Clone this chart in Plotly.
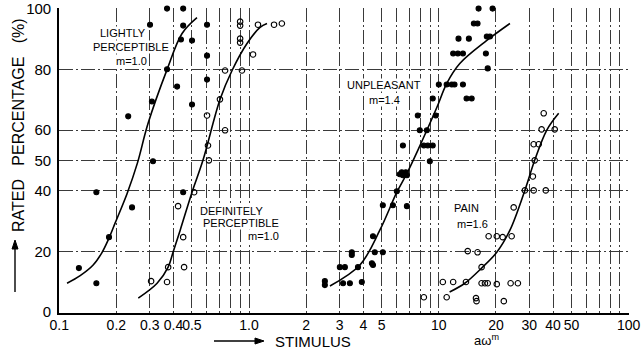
import plotly.graph_objects as go

# ---------------- data ----------------
lightly_x = [0.157, 0.127, 0.157, 0.183, 0.242, 0.231, 0.308, 0.312, 0.301, 0.370, 0.370,
             0.418, 0.450, 0.450, 0.438, 0.501, 0.501, 0.450, 0.601, 0.601, 0.601]
lightly_y = [9.5, 14.5, 39.5, 24.7, 34.5, 64.5, 69.4, 49.7, 94.7, 100, 80,
             74.3, 100, 94.4, 89.8, 89.5, 68.4, 39.5, 94.7, 84.5, 76.6]
lightly_curve_x = [0.110, 0.129, 0.151, 0.168, 0.181, 0.197, 0.228, 0.258, 0.294, 0.370, 0.444, 0.532]
lightly_curve_y = [9.5, 12.0, 15.5, 19.6, 23.7, 29.3, 39.1, 49.0, 62.2, 79.9, 91.8, 97.0]

definitely_x = [0.305, 0.370, 0.375, 0.455, 0.450, 0.423, 0.514, 0.608, 0.615, 0.601, 0.703,
                0.748, 0.748, 0.918, 1.05, 0.898, 0.898, 0.898, 0.898, 1.115, 1.355, 1.49]
definitely_y = [10.2, 9.9, 14.8, 14.8, 24.7, 34.9, 39.5, 54.9, 50.0, 64.8, 70.1,
                59.9, 79.6, 79.6, 84.9, 95.7, 94.4, 90.1, 88.8, 94.7, 94.7, 95.1]
definitely_curve_x = [0.261, 0.328, 0.375, 0.398, 0.434, 0.501, 0.572, 0.704, 0.814, 0.976, 1.143, 1.244]
definitely_curve_y = [4.6, 9.5, 14.8, 19.7, 27.0, 39.5, 50.0, 70.1, 79.6, 88.5, 93.8, 95.1]

unpleasant_x = [2.51, 2.51, 3.01, 3.20, 3.13, 3.40, 3.48, 3.48, 3.75, 3.93, 4.44, 4.50, 4.50,
                4.60, 5.07, 5.07, 5.73, 6.79, 6.01, 6.23, 6.47, 6.79, 6.38, 6.70, 6.47, 7.75,
                7.94, 8.34, 8.75, 9.29, 8.65, 9.29, 9.64, 8.97, 10.0, 11.0, 11.7, 12.1, 13.4,
                14.0, 14.9, 11.9, 12.6, 13.4, 12.7, 14.4, 15.3, 16.0, 17.9, 18.6, 17.7, 18.1,
                16.2, 19.2]
unpleasant_y = [10.2, 8.9, 14.8, 14.8, 9.5, 9.5, 19.7, 18.8, 14.8, 9.9, 16.1, 15.5, 25.0,
                19.7, 19.7, 35.2, 35.2, 34.9, 39.8, 45.4, 45.1, 45.1, 46.1, 46.1, 54.9, 64.8,
                59.9, 54.9, 54.9, 54.9, 59.9, 70.4, 64.8, 49.7, 75.0, 75.0, 75.0, 75.0, 75.0,
                70.4, 70.4, 85.2, 85.2, 85.2, 90.1, 90.1, 95.1, 95.1, 90.8, 90.8, 85.2, 80.3,
                100, 100]
unpleasant_curve_x = [2.67, 3.84, 4.89, 6.01, 6.79, 7.75, 9.76, 11.0, 12.9, 17.9, 23.7]
unpleasant_curve_y = [8.6, 15.5, 27.0, 39.5, 45.7, 53.3, 67.4, 75.3, 81.9, 89.5, 95.1]

pain_x = [8.34, 10.5, 11.9, 13.9, 16.8, 17.5, 18.1, 20.2, 23.9, 26.1, 11.0, 15.7, 15.8, 22.0,
          14.2, 16.0, 16.8, 18.3, 20.2, 21.7, 24.2, 24.8, 28.4, 31.6, 36.6, 31.3, 32.0, 31.6,
          33.6, 34.8, 40.8, 35.7]
pain_y = [4.9, 9.9, 9.9, 9.9, 9.5, 9.5, 9.5, 9.2, 9.5, 9.5, 4.9, 4.6, 3.6, 3.6,
          20.1, 19.7, 14.8, 25.0, 25.0, 24.7, 25.0, 34.5, 40.1, 40.1, 40.1, 44.7, 50.0, 55.3,
          55.3, 60.2, 60.2, 65.5]
pain_curve_x = [11.4, 13.7, 16.8, 20.2, 23.7, 28.4, 32.0, 37.0, 42.8]
pain_curve_y = [6.6, 9.5, 14.5, 19.7, 27.0, 40.1, 50.0, 59.9, 65.5]

x_tick_vals = [0.1, 0.2, 0.3, 0.4, 0.5, 0.6, 0.7, 0.8, 0.9,
               1, 2, 3, 4, 5, 6, 7, 8, 9,
               10, 20, 30, 40, 50, 60, 70, 80, 90, 100]
x_tick_text = ["0.1", "0.2", "0.3", "0.4", "0.5", "", "", "", "",
               "1.0", "2", "3", "4", "5", "", "", "", "",
               "10", "20", "30", "40", "50", "", "", "", "", "100"]
y_tick_vals = [0, 20, 40, 50, 60, 80, 100]
y_tick_text = ["0", "20", "40", "50", "60", "80", "100"]

FONT = "Liberation Sans"
GRID = "#3a3a3a"
DASH = "14px,3px,2px,3px"

fig = go.Figure()

def curve(xs, ys):
    fig.add_trace(go.Scatter(x=xs, y=ys, mode="lines", line=dict(color="black", width=1.6, shape="spline", smoothing=1.0),
                             hoverinfo="skip", showlegend=False))

def pts(xs, ys, filled):
    fig.add_trace(go.Scatter(
        x=xs, y=ys, mode="markers", cliponaxis=False, showlegend=False,
        marker=dict(size=5 if filled else 5.5, symbol="circle" if filled else "circle-open",
                    color="black", line=dict(color="black", width=1.1))))

curve(lightly_curve_x, lightly_curve_y)
curve(definitely_curve_x, definitely_curve_y)
curve(unpleasant_curve_x, unpleasant_curve_y)
curve(pain_curve_x, pain_curve_y)
pts(lightly_x, lightly_y, True)
pts(definitely_x, definitely_y, False)
pts(unpleasant_x, unpleasant_y, True)
pts(pain_x, pain_y, False)

L, R, T, B = 59, 629, 8, 313
def px(v):
    return (v - L) / (R - L)
def py(v):
    return (B - v) / (B - T)

def label(text, x, y, size=11, bg=True):
    fig.add_annotation(text=text, x=px(x), y=py(y), xref="paper", yref="paper", showarrow=False,
                       font=dict(family=FONT, size=size, color="black"),
                       bgcolor="white" if bg else None, borderpad=0, xanchor="center", yanchor="middle")

label("LIGHTLY", 123, 33)
label("PERCEPTIBLE", 131, 47)
label("m=1.0", 131, 61)
label("DEFINITELY", 231, 211)
label("PERCEPTIBLE", 241, 223)
label("m=1.0", 263, 236)
label("UNPLEASANT", 384, 85)
label("m=1.4", 384, 100)
label("PAIN", 466, 208)
label("m=1.6", 472, 224)
label("STIMULUS", 313, 341, size=15, bg=False)
label("aω<sup>m</sup>", 486, 340, size=13, bg=False)

fig.add_annotation(text="RATED   PERCENTAGE   (%)", x=px(18), y=py(125), xref="paper", yref="paper",
                   showarrow=False, textangle=-90, xanchor="center", yanchor="middle",
                   font=dict(family=FONT, size=16, color="black"))

# arrows drawn as shapes (line + head)
def arrow_line(x0, y0, x1, y1):
    fig.add_shape(type="line", xref="paper", yref="paper", x0=px(x0), y0=py(y0), x1=px(x1), y1=py(y1),
                  line=dict(color="black", width=1.4))

def arrow_head(pts_):
    path = "M " + " L ".join(f"{px(a)},{py(b)}" for a, b in pts_) + " Z"
    fig.add_shape(type="path", xref="paper", yref="paper", path=path,
                  fillcolor="black", line=dict(color="black", width=1))

arrow_line(214, 341, 258, 341)
arrow_head([(264, 341), (255, 338), (255, 344)])
arrow_line(15, 292, 15, 246)
arrow_head([(15, 240), (12, 249), (18, 249)])

fig.update_xaxes(type="log", range=[-1.001, 2.002], tickmode="array", tickvals=x_tick_vals, ticktext=x_tick_text,
                 tickangle=0, showgrid=True, gridcolor=GRID, gridwidth=1, griddash=DASH,
                 showline=True, linecolor="black", linewidth=1.6, ticks="", zeroline=False,
                 ticklabeloverflow="allow", ticklabelstandoff=-2, automargin=False,
                 tickfont=dict(family=FONT, size=14, color="black"))
fig.update_yaxes(range=[-0.3, 100.2], tickmode="array", tickvals=y_tick_vals, ticktext=y_tick_text,
                 showgrid=True, gridcolor=GRID, gridwidth=1, griddash=DASH,
                 showline=True, linecolor="black", linewidth=1.6, ticks="", zeroline=False,
                 ticklabeloverflow="allow", automargin=False,
                 tickfont=dict(family=FONT, size=15, color="black"), ticklabelstandoff=3)

fig.update_layout(width=641, height=352, margin=dict(l=L, r=641 - R, t=T, b=352 - B, autoexpand=False),
                  paper_bgcolor="white", plot_bgcolor="white", showlegend=False,
                  font=dict(family=FONT, color="black"))

fig.write_html("out.html")
